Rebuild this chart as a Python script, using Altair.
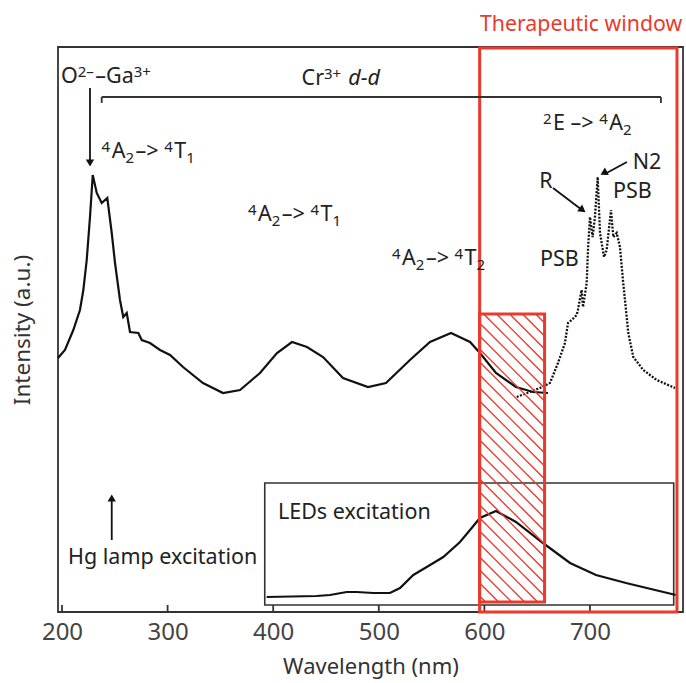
import altair as alt
import pandas as pd

# ---------------- data ----------------
main_wl = [196.2, 202.8, 210.7, 217.0, 220.2, 223.4, 226.5, 229.1, 232.9, 237.6,
           242.9, 247.1, 250.2, 254.9, 258.0, 261.3, 264.4, 272.3, 275.5, 283.3,
           292.8, 302.3, 314.6, 333.5, 352.5, 368.6, 387.5, 403.6, 417.8, 432.0,
           447.2, 466.1, 489.8, 506.8, 529.5, 548.5, 568.4, 586.4, 595.8, 611.0,
           629.9, 646.0, 660.2]
main_int = [254, 262, 282, 302, 322, 352, 395, 437, 419, 409,
            414, 379, 349, 312, 295, 299, 280, 279, 272, 269,
            262, 257, 245, 229, 219, 222, 239, 259, 270, 265,
            255, 234, 225, 229, 252, 270, 279, 270, 259, 239,
            225, 220, 219]

emis_wl = [630.6, 652.7, 662.1, 669.7, 676.3, 679.2, 682.7, 687.4, 688.6, 692.1,
           693.4, 696.9, 698.1, 700.0, 702.5, 704.7, 707.3, 709.5, 713.3, 715.8,
           719.9, 722.1, 725.3, 728.4, 731.5, 736.3, 741.0, 750.5, 763.2, 780.5]
emis_int = [215, 224, 229, 249, 269, 289, 292, 297, 302, 322,
            305, 329, 362, 395, 375, 395, 435, 379, 355, 362,
            402, 375, 379, 365, 329, 279, 255, 242, 232, 224]

led_wl = [393.8, 441.2, 453.8, 469.6, 479.1, 494.8, 510.6, 520.1, 532.7, 545.4,
          561.1, 576.9, 586.4, 595.8, 611.0, 629.9, 655.5, 681.1, 705.7, 734.1, 781.4]
led_int = [15, 16, 17, 20, 20, 19, 19, 24, 37, 45,
           55, 70, 82, 94, 101, 90, 69, 49, 37, 29, 17]

tick_values = [200, 300, 400, 500, 600, 700]

# regions
window_x = [595.5, 782.4]      # therapeutic window
window_y = [0, 564]
hatch_x = [595.5, 657.0]       # LED band (hatched)
hatch_y = [10, 298]
inset_x = [392.0, 779.3]       # LEDs excitation box
inset_y = [7, 129]
bracket_x = [237.6, 767.2]
bracket_y = 515

X_DOMAIN = [196.2, 788.1]
Y_DOMAIN = [0, 565]
W, H = 625, 565
RED = "#ea3a2c"
INK = "#222222"
FONT = "Noto Sans"
FS = 21.5
FS_SMALL = 15

xs = alt.Scale(domain=X_DOMAIN, nice=False, zero=False)
ys = alt.Scale(domain=Y_DOMAIN, nice=False, zero=False)

x_axis = alt.Axis(values=tick_values, ticks=False, domain=False, grid=False,
                  labelFontSize=24, labelColor="#444", labelFont=FONT,
                  labelPadding=8, title="Wavelength (nm)", titleFont=FONT,
                  titleFontSize=22, titleFontWeight="normal", titleColor="#333",
                  titlePadding=12)
y_axis = alt.Axis(labels=False, ticks=False, domain=False, grid=False,
                  title="Intensity (a.u.)", titleFont=FONT, titleFontSize=22.5,
                  titleFontWeight="normal", titleColor="#333", titlePadding=24)


def X(field):
    return alt.X(field, type="quantitative", scale=xs, axis=x_axis)


def Y(field):
    return alt.Y(field, type="quantitative", scale=ys, axis=y_axis)


# ---------------- layers ----------------
main_df = pd.DataFrame({"wl": main_wl, "I": main_int})
emis_df = pd.DataFrame({"wl": emis_wl, "I": emis_int})
led_df = pd.DataFrame({"wl": led_wl, "I": led_int})

main_line = alt.Chart(main_df).mark_line(color="#111", strokeWidth=2.2).encode(
    x=X("wl"), y=Y("I"))
emis_line = alt.Chart(emis_df).mark_line(color="#111", strokeWidth=2.3,
                                         strokeDash=[2, 1.5]).encode(x=X("wl"), y=Y("I"))
led_line = alt.Chart(led_df).mark_line(color="#111", strokeWidth=2.2).encode(
    x=X("wl"), y=Y("I"))

# bottom ticks drawn inward
tick_df = pd.DataFrame({"wl": tick_values, "y0": [0] * len(tick_values),
                        "y1": [7] * len(tick_values)})
ticks = alt.Chart(tick_df).mark_rule(color="#333", strokeWidth=1.8).encode(
    x=X("wl"), y=Y("y0"), y2="y1")

# inset box
inset = alt.Chart(pd.DataFrame({"x0": [inset_x[0]], "x1": [inset_x[1]],
                                "y0": [inset_y[0]], "y1": [inset_y[1]]})).mark_rect(
    fillOpacity=0, stroke="#333", strokeWidth=1.6).encode(
    x=X("x0"), x2="x1", y=Y("y0"), y2="y1")

# therapeutic window
window = alt.Chart(pd.DataFrame({"x0": [window_x[0]], "x1": [window_x[1]],
                                 "y0": [window_y[0]], "y1": [window_y[1]]})).mark_rect(
    fillOpacity=0, stroke=RED, strokeWidth=3).encode(
    x=X("x0"), x2="x1", y=Y("y0"), y2="y1")

# hatched band: 45-degree lines clipped to the band (computed in pixel space)
kx = W / (X_DOMAIN[1] - X_DOMAIN[0])
ky = H / (Y_DOMAIN[1] - Y_DOMAIN[0])
pxL = (hatch_x[0] - X_DOMAIN[0]) * kx
pxR = (hatch_x[1] - X_DOMAIN[0]) * kx
pyB = hatch_y[0] * ky
pyT = hatch_y[1] * ky
segs = {"x0": [], "y0": [], "x1": [], "y1": []}
s = pxL + pyB + 6
while s < pxR + pyT:
    a = max(pxL, s - pyT)
    b = min(pxR, s - pyB)
    if b - a > 0.5:
        segs["x0"].append(a / kx + X_DOMAIN[0])
        segs["y0"].append((s - a) / ky)
        segs["x1"].append(b / kx + X_DOMAIN[0])
        segs["y1"].append((s - b) / ky)
    s += 13
hatch_lines = alt.Chart(pd.DataFrame(segs)).mark_rule(color=RED, strokeWidth=1.4).encode(
    x=X("x0"), y=Y("y0"), x2="x1", y2="y1")
hatch_box = alt.Chart(pd.DataFrame({"x0": [hatch_x[0]], "x1": [hatch_x[1]],
                                    "y0": [hatch_y[0]], "y1": [hatch_y[1]]})).mark_rect(
    fillOpacity=0, stroke=RED, strokeWidth=3).encode(
    x=X("x0"), x2="x1", y=Y("y0"), y2="y1")

# bracket over Cr3+ d-d
br_df = pd.DataFrame({"x0": [bracket_x[0], bracket_x[0], bracket_x[1]],
                      "x1": [bracket_x[1], bracket_x[0], bracket_x[1]],
                      "y0": [bracket_y, bracket_y, bracket_y],
                      "y1": [bracket_y, bracket_y - 6, bracket_y - 6]})
bracket = alt.Chart(br_df).mark_rule(color="#333", strokeWidth=1.8).encode(
    x=X("x0"), x2="x1", y=Y("y0"), y2="y1")

# arrows (shafts)
arrow_x0 = [226.5, 247.1, 665.0, 735.0]
arrow_y0 = [524, 72, 424, 450]
arrow_x1 = [226.5, 247.1, 692.5, 714.0]
arrow_y1 = [450, 113, 402, 438]
arr_df = pd.DataFrame({"x0": arrow_x0, "y0": arrow_y0, "x1": arrow_x1, "y1": arrow_y1})
shafts = alt.Chart(arr_df).mark_rule(color="#111", strokeWidth=1.8).encode(
    x=X("x0"), x2="x1", y=Y("y0"), y2="y1")

head_x = [226.5, 247.1, 693.0, 713.0]
head_y = [449, 114, 402, 439]
head_angle = [180, 0, 127, 242]
head_df = pd.DataFrame({"x": head_x, "y": head_y, "ang": head_angle})
heads = alt.Chart(head_df).mark_point(shape="triangle-up", filled=True, color="#111",
                                      opacity=1, size=70).encode(
    x=X("x"), y=Y("y"), angle=alt.Angle("ang:Q", scale=None))

# ---------------- text with super/subscripts ----------------
rich_pieces = [
    [("O", "n"), ("2\u2013", "sup"), ("\u2013Ga", "n"), ("3+", "sup")],
    [("Cr", "n"), ("3+", "sup"), (" ", "n"), ("d-d", "it")],
    [("4", "sup"), ("A", "n"), ("2", "sub"), ("\u2013> ", "n"), ("4", "sup"), ("T", "n"), ("1", "sub")],
    [("4", "sup"), ("A", "n"), ("2", "sub"), ("\u2013> ", "n"), ("4", "sup"), ("T", "n"), ("1", "sub")],
    [("4", "sup"), ("A", "n"), ("2", "sub"), ("\u2013> ", "n"), ("4", "sup"), ("T", "n"), ("2", "sub")],
    [("2", "sup"), ("E \u2013> ", "n"), ("4", "sup"), ("A", "n"), ("2", "sub")],
]
rich_x = [199.0, 426.9, 237.5, 376.1, 512.5, 655.5]
rich_y = [529.5, 527.5, 454.5, 391.5, 347.5, 482.5]

CW = {"A": 0.639, "B": 0.648, "C": 0.632, "D": 0.729, "E": 0.556, "G": 0.726,
      "N": 0.754, "O": 0.779, "P": 0.603, "R": 0.618, "S": 0.549, "T": 0.556,
      "a": 0.561, "r": 0.411, "d": 0.613, "-": 0.322, "\u2013": 0.5, ">": 0.572,
      " ": 0.26, "+": 0.572}


def text_width(s, fs):
    return sum(CW.get(c, 0.572) for c in s) * fs


rows = []
for pieces, x0, yb in zip(rich_pieces, rich_x, rich_y):
    off = 0.0
    for txt, st in pieces:
        fs = FS_SMALL if st in ("sup", "sub") else FS
        dy = {"n": 0, "it": 0, "sup": 0.26 * FS, "sub": -0.24 * FS}[st]
        rows.append({"x": x0 + off / kx, "y": yb + dy / ky, "t": txt, "fs": fs,
                     "it": st == "it"})
        off += text_width(txt, fs) + (1.5 if st in ("sup", "sub") else 0)
rich_df = pd.DataFrame(rows)

rich_text = alt.Chart(rich_df[~rich_df["it"]]).mark_text(
    align="left", baseline="alphabetic", font=FONT, color=INK).encode(
    x=X("x"), y=Y("y"), text="t:N", size=alt.Size("fs:Q", scale=None))
rich_ital = alt.Chart(rich_df[rich_df["it"]]).mark_text(
    align="left", baseline="alphabetic", font=FONT, fontStyle="italic", color=INK).encode(
    x=X("x"), y=Y("y"), text="t:N", size=alt.Size("fs:Q", scale=None))

lab_text = ["R", "N2", "PSB", "PSB", "LEDs excitation", "Hg lamp excitation"]
lab_x = [652.0, 740.5, 721.8, 652.7, 404.5, 205.7]
lab_y = [430, 449, 420, 352, 99, 54]
lab_df = pd.DataFrame({"x": lab_x, "y": lab_y, "t": lab_text})
labels = alt.Chart(lab_df).mark_text(align="left", baseline="middle", font=FONT,
                                     fontSize=FS, color=INK).encode(
    x=X("x"), y=Y("y"), text="t:N")

title = alt.Chart(pd.DataFrame({"x": [595.8], "y": [587], "t": ["Therapeutic window"]})).mark_text(
    align="left", baseline="middle", font=FONT, fontSize=21.3, color=RED).encode(
    x=X("x"), y=Y("y"), text="t:N")

chart = alt.layer(
    main_line, emis_line, inset, led_line, ticks, hatch_lines, hatch_box, window,
    bracket, shafts, heads, rich_text, rich_ital, labels, title
).properties(
    width=W, height=H,
    autosize=alt.AutoSizeParams(type="none"),
    padding={"left": 58, "top": 47, "right": 3, "bottom": 71},
).configure_view(stroke="#333", strokeWidth=1.8)

chart.save("out.html", embed_options={"renderer": "svg", "actions": False})
